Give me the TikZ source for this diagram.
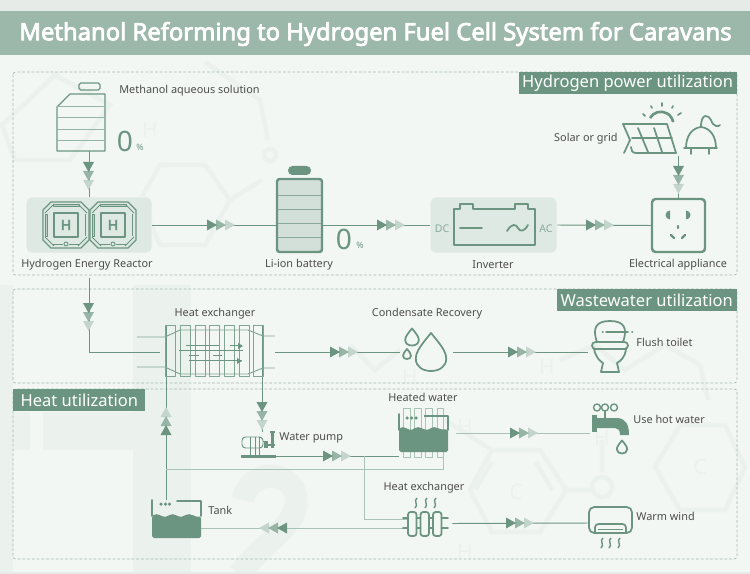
\documentclass[tikz,border=0pt]{standalone}
\usepackage{fontspec}
\setmainfont{Noto Sans}
\newfontfamily\heavyfont{Noto Sans}[FakeBold=3.2]
\usepackage{tikz}
\usetikzlibrary{calc, arrows.meta, positioning}
\definecolor{accent}{HTML}{6B9580}
\definecolor{softline}{HTML}{A9C3B5}
\definecolor{panelbg}{HTML}{DFE9E3}
\definecolor{pagebg}{HTML}{F3F7F4}
\definecolor{ghost}{HTML}{EBF2EE}
\definecolor{bandbg}{HTML}{9CB8AA}
\definecolor{topstrip}{HTML}{E6EBE7}
\definecolor{inktext}{HTML}{4D4D4D}
\tikzset{
    iconbox/.style 2 args={inner sep=0pt, minimum width=#1*0.02cm, minimum height=#2*0.02cm},
    panel/.style 2 args={iconbox={#1}{#2}, fill=panelbg, draw=panelbg!80!black!12, rounded corners=3pt},
    caption/.style={font=\fontsize{6.2}{7}\selectfont, text=inktext, inner sep=0pt},
    tag/.style={fill=accent, text=white, font=\fontsize{9.4}{11}\selectfont, inner sep=0pt, minimum height=0.44cm},
    zone/.style={draw=accent!65, dash pattern=on 1.6pt off 1.1pt, line width=0.35pt, rounded corners=1.5pt},
    flow/.style={draw=accent, line width=0.55pt},
    softflow/.style={draw=softline, line width=0.55pt},
    icon/.style={draw=accent, line width=1pt, line join=round, line cap=round},
    thinicon/.style={draw=accent, line width=0.55pt, line join=round},
    ghostline/.style={draw=ghost, line width=2.6pt},
    ghosttext/.style={text=ghost, font=\fontsize{12}{14}\selectfont},
    pics/triple/.style={code={
        \fill[accent!40] (18,-5.5) -- (28,0) -- (18,5.5) -- cycle;
        \fill[accent!70] (9,-5.5) -- (19,0) -- (9,5.5) -- cycle;
        \fill[accent] (0,-5.5) -- (10,0) -- (0,5.5) -- cycle;
    }},
    pics/drop/.style={code={
        \draw[icon] (0,-1) .. controls (0.45,-0.45) and (0.8,-0.05) .. (0.8,0.35) .. controls (0.8,0.8) and (0.4,1) .. (0,1) .. controls (-0.4,1) and (-0.8,0.8) .. (-0.8,0.35) .. controls (-0.8,-0.05) and (-0.45,-0.45) .. (0,-1) -- cycle;
    }},
    pics/squiggle/.style={code={
        \draw[thinicon, line width=.8pt] (1,-5) .. controls (-3,-2) and (3,2) .. (-1,5);
    }},
    pics/cell/.style={code={
        \draw[thinicon, line width=.7pt] (-23,-15) -- (-15,-23) -- (15,-23) -- (23,-15) -- (23,15) -- (15,23) -- (-15,23) -- (-23,15) -- cycle;
        \draw[thinicon, fill=accent!45] (-13,-20.5) rectangle (13,-18.5);
        \draw[thinicon, fill=accent!45] (-20.5,-11) rectangle (-18.5,11);
        \draw[thinicon] (19,-11) -- (19,11);
        \draw[thinicon] (-13,19) -- (-3,19) (3,19) -- (13,19);
        \draw[thinicon] (0,19) circle[radius=0.04cm];
        \draw[thinicon] (-21,-12) -- (-12,-21) (12,-21) -- (21,-12) (-21,12) -- (-12,21) (12,21) -- (21,12);
        \draw[thinicon, line width=.7pt] (-12,-12) rectangle (12,12);
        \node[text=accent, font=\heavyfont\fontsize{8}{9}\selectfont, inner sep=0pt] at (0,0) {H};
    }}
}
\begin{document}
\begin{tikzpicture}[x=0.02cm, y=-0.02cm]
\useasboundingbox (0,0) rectangle (750,574);
\fill[pagebg] (0,0) rectangle (750,574);

\fill[ghost] (133,285) rectangle (191,574);
\fill[ghost] (0,285) rectangle (13,574);
\fill[ghost] (13,412) rectangle (30,450);
\fill[ghost] (43,412) rectangle (133,450);
\draw[ghost, line width=13pt] (243,500) .. controls (250,465) and (300,470) .. (296,505) .. controls (292,530) and (255,550) .. (240,574);
\draw[ghostline] (470,490) -- (492,450) -- (540,450) -- (566,490) -- (540,532) -- (492,532) -- cycle;
\draw[ghostline] (492,462) -- (475,490) (536,462) -- (552,490) (566,490) -- (590,490);
\draw[ghostline] (655,467) -- (680,425) -- (725,425) -- (745,467) -- (725,510) -- (680,510) -- cycle;
\draw[ghostline] (602,440) -- (602,472) (445,420) -- (492,450);
\draw[ghostline] (602,487) ++(0.2cm,0) arc (0:360:0.2cm);
\draw[ghostline] (140,200) -- (160,165) -- (205,165) -- (230,200) -- (205,245) -- (160,245) -- cycle;
\draw[ghostline] (230,200) -- (262,180) (2,125) -- (55,75) -- (110,105) -- (70,160) -- (15,160) -- cycle;
\draw[ghostline] (205,62) -- (260,100) -- (268,140) (270,155) ++(0.12cm,0) arc (0:360:0.12cm);
\draw[ghostline] (350,345) -- (375,370) -- (400,350) (560,360) -- (595,345) -- (625,370) -- (665,345) -- (700,365) -- (708,400);
\node[ghosttext] at (150,130) {H};
\node[ghosttext] at (516,492) {C};
\node[ghosttext] at (700,467) {C};
\node[ghosttext] at (547,367) {H};
\node[ghosttext] at (410,377) {H};
\node[ghosttext] at (465,427) {H};
\node[ghosttext] at (465,552) {H};
\node[ghosttext] at (602,438) {H};

\fill[topstrip] (0,0) rectangle (750,11);
\fill[topstrip] (0,572) rectangle (750,574);
\fill[bandbg] (0,11) rectangle (750,55);
\node[text=white, font=\heavyfont\fontsize{13.55}{16}\selectfont, inner sep=0pt] (title) at (375.5,34) {Methanol Reforming to Hydrogen Fuel Cell System for Caravans};

\draw[zone] (13,72) rectangle (737,275);
\draw[zone] (13,289) rectangle (737,383);
\draw[zone] (13,389) rectangle (737,559);
\node[tag, anchor=north east, minimum width=4.36cm] (powertag) at (737,72) {Hydrogen power utilization};
\node[tag, anchor=north east, minimum width=3.6cm] (wastetag) at (737,289) {Wastewater utilization};
\node[tag, anchor=north west, minimum width=2.64cm] (heattag) at (13,389) {Heat utilization};

\node[iconbox={48}{68}] (bottle) at (81,117) {};
\node[panel={126}{56}] (reactor) at (89,225) {};
\node[iconbox={46}{86}] (battery) at (299,209) {};
\node[panel={127}{56}] (inverter) at (493.5,225) {};
\node[iconbox={53}{53}] (socket) at (678.5,225.5) {};
\node[iconbox={95}{37}] (source) at (678,137) {};
\node[iconbox={115}{54}] (hx) at (217.5,352) {};
\node[iconbox={53}{48}] (condensate) at (426.5,352) {};
\node[iconbox={44}{64}] (toilet) at (610,352) {};
\node[iconbox={30}{26}] (pump) at (262,445) {};
\node[iconbox={49}{38}] (hotwater) at (423.5,433) {};
\node[iconbox={49}{38}] (tank) at (176.5,519) {};
\node[iconbox={45}{24}] (hxsmall) at (429.5,523.5) {};
\node[iconbox={38}{50}] (faucet) at (609,433) {};
\node[iconbox={42}{34}] (wind) at (610,523) {};

\coordinate (reactorout) at (89,278);
\coordinate (hxcold) at (166,325);
\coordinate (hxhot) at (262,325);
\coordinate (tankup) at (166,500);
\coordinate (pumpout) at (276,456);
\coordinate (split) at (364,456);
\coordinate (hxin) at (407,519);
\coordinate (hxback) at (407,528);
\coordinate (coldtee) at (166,469);
\coordinate (coldin) at (443,457);
\coordinate (hotout) at (456,433);

\draw[flow] (reactor.north |- bottle.south) -- (reactor.north);
\draw[flow] (reactor.east) -- (battery.west |- reactor.east);
\draw[flow] (battery.east |- inverter.west) -- (inverter.west);
\draw[flow] (inverter.east) -- (socket.west);
\draw[flow] (socket.north |- source.south) -- (socket.north);
\draw[flow] (reactorout) |- (hx.west);
\draw[flow] (hx.east) -- (condensate.west);
\draw[flow] (condensate.east) -- (toilet.west);
\draw[flow] (hxhot) -- (pump.north);
\draw[flow] (tankup) -- (hxcold);
\draw[flow] (pumpout) -- (pumpout -| hotwater.west);
\draw[softflow] (split) |- (hxin);
\draw[softflow] (coldtee) -| (coldin);
\draw[softflow] (hxback) -- (hxback -| tank.east);
\draw[softflow] (hotout) -- (faucet.west);
\draw[flow] (hxsmall.east) -- (wind.west);

\pic[rotate=-90] at (88.5,162) {triple};
\pic at (207,225) {triple};
\pic at (377,225) {triple};
\pic at (586,225) {triple};
\pic[rotate=-90] at (678.5,166) {triple};
\pic[rotate=-90] at (88.5,303) {triple};
\pic at (330,352) {triple};
\pic at (508,352) {triple};
\pic[rotate=-90] at (262,402) {triple};
\pic[rotate=90] at (166,435) {triple};
\pic at (323,456) {triple};
\pic at (510,433) {triple};
\pic at (506,523) {triple};
\pic[rotate=180] at (287,528) {triple};

\draw[thinicon, rounded corners=1pt, line width=.7pt] (79,83) rectangle (100,90);
\draw[thinicon, line width=.7pt] (57,107) -- (70,94) -- (105,94) -- (105,151) -- (57,151) -- cycle;
\foreach \ypos in {106,117,129,140}
    \draw[thinicon, draw=accent!70] (57,\ypos) -- (105,\ypos);

\pic at (66,225) {cell};
\pic at (113,225) {cell};

\draw[accent, line width=1.4pt, fill=accent!35, fill opacity=.8, rounded corners=1.5pt] (277,179) rectangle (322,252);
\fill[accent, rounded corners=2.5pt] (288,166) rectangle (311,175);
\foreach \ypos in {195,209,223,237}
    \draw[thinicon, draw=accent!80] (278,\ypos) -- (321,\ypos);

\draw[icon] (454,245) -- (454,209) -- (460,209) -- (460,204) -- (473,204) -- (473,209) -- (515,209) -- (515,204) -- (528,204) -- (528,209) -- (535,209) -- (535,245) -- cycle;
\draw[icon] (460,228) -- (482,228);
\draw[icon] (507,231) .. controls (512,223) and (516,224) .. (518,228) .. controls (520,232) and (524,232) .. (528,225);

\draw[accent, line width=1.4pt, rounded corners=2pt] (652,199) rectangle (705,252);
\fill[accent] (670,210.5) arc (90:270:0.09cm) -- cycle;
\fill[accent] (686,210.5) arc (90:-90:0.09cm) -- cycle;
\draw[accent, line width=1.3pt, line cap=round] (678,226) -- (678,228) (671,235) -- (674,238) (685,235) -- (682,238);

\draw[icon] (632,138) -- (672,138);
\draw[icon] (623,124) -- (667,124) -- (676,153) -- (636,153) .. controls (632,153) and (631,150) .. (631,147);
\draw[icon] (623,124) -- (630,140) -- (624,153);
\draw[icon] (638,128) -- (648,152) (654,128) -- (662,152);
\draw[accent, line width=1.5pt] (650,118) arc (150:10:0.25cm);
\draw[icon] (643,114) -- (645,116) (651,106) -- (652,108) (662,103) -- (662,106) (673,106) -- (672,108) (681,113) -- (678,115);

\draw[icon] (686,148) .. controls (686,136) and (692,128) .. (701,127) .. controls (710,128) and (716,136) .. (716,148);
\draw[icon] (684,148) -- (717,148) (691,148) -- (691,154) (709,148) -- (709,154);
\draw[icon] (701,127) .. controls (701,112) and (709,115) .. (711,120) .. controls (713,127) and (719,127) .. (720,125);

\draw[thinicon, draw=accent!85] (137,337) -- (165,337) -- (180,330) -- (248,330) -- (263,336) -- (275,336);
\draw[thinicon, draw=accent!85] (137,367) -- (165,367) -- (180,374) -- (248,374) -- (263,368) -- (275,368);
\foreach \xpos in {165,180,195,209,224,239,253}
    \draw[thinicon, draw=accent!85] (\xpos,325) rectangle ++(10,51);
\draw[thinicon] (186,345) -- (219,345) (230,345) -- (242,345) (179,350) -- (243,350) (189,355) -- (199,355) (213,355) -- (222,355) (189,360) -- (242,360);
\fill[accent] (238,343) -- (243,346) -- (238,349) -- cycle (237,358) -- (242,361) -- (237,364) -- cycle;

\pic[scale=19] at (431,352) {drop};
\pic[scale=8.5] at (412,337) {drop};
\pic[scale=5] at (407,354) {drop};

\draw[icon] (597,342) .. controls (592,328) and (596,321) .. (610,321) .. controls (624,321) and (628,328) .. (623,342);
\draw[icon, rounded corners=2pt] (592,342) rectangle (628,349);
\draw[icon] (594,349) .. controls (596,358) and (600,361) .. (603,363) -- (601,372) -- (619,372) -- (617,363) .. controls (620,361) and (625,358) .. (626,349);
\draw[icon] (606,332) -- (628,332) (602.5,332) -- (603,332) (632,332) -- (632.5,332);

\draw[thinicon, draw=softline] (403,408) rectangle (410,457);
\draw[thinicon, draw=softline] (414,408) rectangle (421,457);
\draw[thinicon, draw=softline] (425,408) rectangle (432,457);
\draw[thinicon, draw=softline] (437,408) rectangle (443,457);
\fill[accent, rounded corners=1pt] (399,429) .. controls (404,425) and (408,431) .. (414,429) .. controls (419,425) and (424,431) .. (430,429) .. controls (435,425) and (440,431) .. (448,429) -- (448,452) -- (399,452) -- cycle;
\draw[icon] (399,430) -- (399,414);
\draw[icon] (448,430) -- (448,416);
\draw[accent, line width=1.4pt] (424,416) -- (448,416);
\foreach \xpos in {407,411.5,416}
    \fill[accent] (\xpos,418) circle[radius=0.035cm];

\fill[accent, rounded corners=1pt] (152,516) .. controls (158,512) and (162,518) .. (168,516) .. controls (174,512) and (178,518) .. (184,516) .. controls (190,512) and (196,518) .. (201,516) -- (201,538) -- (152,538) -- cycle;
\draw[icon] (152,500) -- (152,516) (177,501) -- (201,501) -- (201,516);
\foreach \xpos in {161,165.5,169.5}
    \fill[accent] (\xpos,504) circle[radius=0.035cm];

\draw[accent, line width=1.3pt] (241,456.5) -- (276,456.5);
\draw[thinicon, rounded corners=2pt] (242,437) rectangle (263,448);
\draw[thinicon] (250,437) -- (250,456) (255,437) -- (255,456) (259,437) -- (259,456) (263,441) -- (268,441);
\fill[accent] (264,441) rectangle (268,448);
\draw[accent, line width=1.5pt] (272.5,432) -- (272.5,448) (265,445) -- (275,445) (270,432) -- (275,432);

\fill[accent] (592,415) rectangle (597,432);
\fill[accent] (597,418) -- (618,418) .. controls (626,419) and (629,425) .. (629,435) -- (620,435) .. controls (620,430) and (618,428) .. (615,428) -- (597,428) -- cycle;
\draw[thinicon, line width=.8pt] (597,407.5) circle[radius=0.07cm] (605,407.5) circle[radius=0.07cm] (614,407.5) circle[radius=0.07cm];
\draw[icon] (605,411) -- (605,418);
\pic[scale=6.5] at (622,447) {drop};

\foreach \xpos in {408,420.5,433}
    \draw[icon, rounded corners=1.5pt] (\xpos,512) rectangle ++(8.5,24);
\draw[icon] (403,518) -- (408,518) (416.5,518) -- (420.5,518) (429,518) -- (433,518) (441.5,518) -- (448,518);
\draw[icon] (403,528) -- (408,528) (416.5,528) -- (420.5,528) (429,528) -- (433,528) (441.5,528) -- (448,528);
\foreach \xpos in {416,426,435}
    \pic at (\xpos,503) {squiggle};

\draw[icon, rounded corners=3pt] (589,533) -- (589,507) -- (632,507) -- (632,533) -- cycle;
\draw[icon, rounded corners=2pt] (595,533) -- (595,524) -- (626,524) -- (626,533);
\draw[thinicon] (598,529) -- (623,529);
\foreach \xpos in {602,610,619}
    \pic at (\xpos,543) {squiggle};

\node[caption, anchor=west] (bottlelabel) at (119,91) {Methanol aqueous solution};
\node[caption] (reactorlabel) at (87,265) {Hydrogen Energy Reactor};
\node[caption] (batterylabel) at (299,265) {Li-ion battery};
\node[caption] (inverterlabel) at (493,265) {Inverter};
\node[caption] (socketlabel) at (678,265) {Electrical appliance};
\node[caption, anchor=east] (sourcelabel) at (618,139) {Solar or grid};
\node[caption] (hxlabel) at (215,314) {Heat exchanger};
\node[caption] (condensatelabel) at (427,314) {Condensate Recovery};
\node[caption, anchor=west] (toiletlabel) at (636,342) {Flush toilet};
\node[caption, anchor=west] (pumplabel) at (279,438) {Water pump};
\node[caption] (hotwaterlabel) at (423,397) {Heated water};
\node[caption, anchor=west] (faucetlabel) at (633,419) {Use hot water};
\node[caption] (hxsmalllabel) at (424,488) {Heat exchanger};
\node[caption, anchor=west] (windlabel) at (636,516) {Warm wind};
\node[caption, anchor=west] (tanklabel) at (208,510) {Tank};
\node[text=accent, font=\fontsize{16}{18}\selectfont, inner sep=0pt] (bottlezero) at (125,141) {0};
\node[text=accent, font=\fontsize{5}{6}\selectfont, inner sep=0pt] (bottlepct) at (140,147) {\%};
\node[text=accent, font=\fontsize{16}{18}\selectfont, inner sep=0pt] (batteryzero) at (344,239) {0};
\node[text=accent, font=\fontsize{5}{6}\selectfont, inner sep=0pt] (batterypct) at (360,245) {\%};
\node[text=accent!80, font=\fontsize{6}{7}\selectfont, inner sep=0pt] (dclabel) at (442,229) {DC};
\node[text=accent!80, font=\fontsize{6}{7}\selectfont, inner sep=0pt] (aclabel) at (546,229) {AC};
\end{tikzpicture}
\end{document}
